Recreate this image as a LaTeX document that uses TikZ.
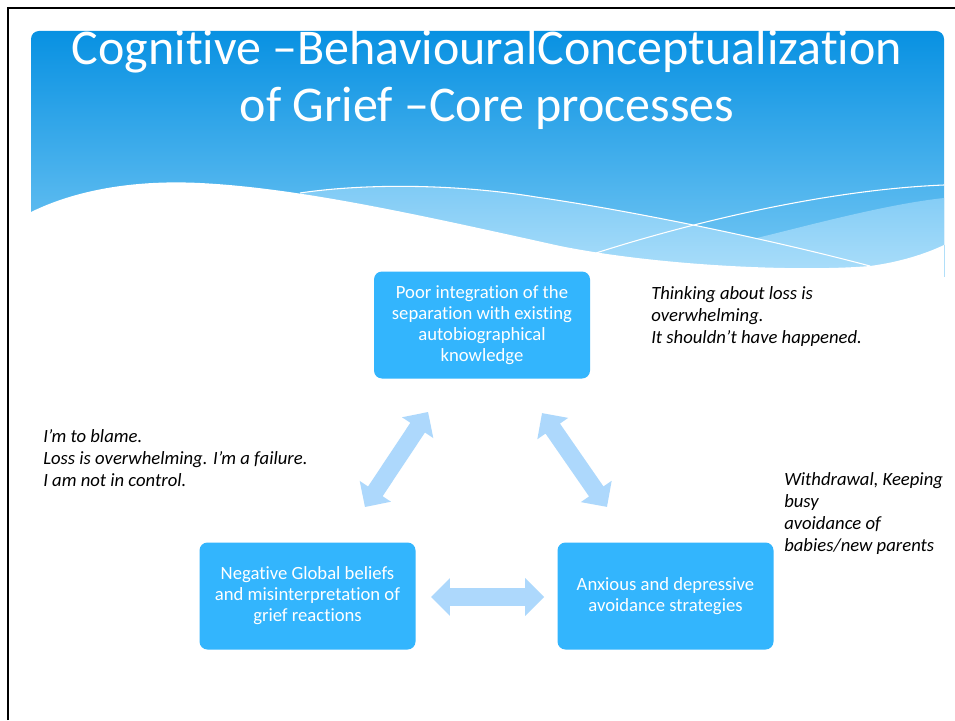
\documentclass[tikz,border=0pt]{standalone}
\usepackage{fontspec}
\setmainfont{Carlito}[Ligatures={NoCommon}]
\usetikzlibrary{shapes.arrows}
\definecolor{boxblue}{RGB}{51,181,253}
\definecolor{arrowblue}{RGB}{173,216,252}
\definecolor{hdtop}{RGB}{8,145,226}
\definecolor{hdbot}{RGB}{118,200,244}
\definecolor{bandtop}{RGB}{126,202,245}
\definecolor{bandbot}{RGB}{178,225,251}
\begin{document}
\begin{tikzpicture}[x=0.75pt,y=-0.75pt,
  procbox/.style={fill=boxblue, rounded corners=6pt, text=white, align=center,
    font=\fontsize{14}{15.75}\selectfont, minimum width=162pt, minimum height=80.25pt, inner sep=0pt},
  note/.style={align=left, anchor=north west, font=\itshape\fontsize{14}{16.5}\selectfont, inner sep=0pt},
  titletext/.style={anchor=base, text=white, font=\fontsize{37.5}{40}\selectfont, inner sep=0pt},
  dblarrow/.style={double arrow, fill=arrowblue, draw=none, inner xsep=0pt, inner ysep=6.375pt,
    double arrow head extend=7.5pt, minimum height=85.5pt}]
\useasboundingbox (0,0) rectangle (955,720);
\fill[white] (0,0) rectangle (955,720);
% frame
\draw[line width=1.5pt] (7.5,720) -- (7.5,8.5) -- (955,8.5);
% header
\shade[top color=hdtop, bottom color=hdbot, rounded corners=6pt] (31,272) -- (31,31) -- (944,31) -- (944,272) [sharp corners] -- cycle;
\shade[top color=bandtop, bottom color=bandbot]
  (300,193) .. controls (360,184) and (450,183) .. (536,197) .. controls (640,212) and (780,242) .. (870,266) -- (870,290) -- (300,290) -- cycle
  (724,246) .. controls (800,228) and (880,205) .. (944,198) -- (944,290) -- (724,290) -- cycle;
\fill[white] (31,212) .. controls (80,188) and (140,180) .. (200,183)
  .. controls (300,188) and (420,215) .. (560,246)
  .. controls (660,266) and (800,272) .. (870,266)
  .. controls (900,262) and (925,254) .. (944,245) -- (946,295) -- (29,295) -- cycle;
\draw[white, line width=0.8pt] (300,193) .. controls (360,184) and (450,183) .. (536,197) .. controls (640,212) and (780,242) .. (870,266);
\draw[white, line width=0.8pt] (596,253) .. controls (680,226) and (820,190) .. (944,185);
\draw[bandtop!60, line width=0.6pt] (944,245) -- (944,277);
% title
\node[titletext] (title1) at (487,65) {Cognitive –BehaviouralConceptualization};
\node[titletext] (title2) at (487,122) {of Grief –Core processes};
% boxes
\node[procbox] (poor) at (482,325) {Poor integration of the\\separation with existing\\autobiographical\\knowledge};
\node[procbox] (neg) at (307.5,596) {Negative Global beliefs\\and misinterpretation of\\grief reactions};
\node[procbox] (anx) at (665.5,596) {Anxious and depressive\\avoidance strategies};
% arrows
\node[dblarrow, rotate=56.4] (arrL) at (396.5,459.5) {};
\node[dblarrow, rotate=-55.3] (arrR) at (574.5,460) {};
\node[dblarrow, minimum height=84.75pt] (arrH) at (487.5,597) {};
% notes
\node[note] (n1) at (651,286) {Thinking about loss is\\overwhelming.\\It shouldn’t have happened.};
\node[note] (n2) at (43,429) {I’m to blame.\\Loss is overwhelming. I’m a failure.\\I am not in control.};
\node[note] (n3) at (784,472) {Withdrawal, Keeping\\busy\\avoidance of\\babies/new parents};
\end{tikzpicture}
\end{document}
